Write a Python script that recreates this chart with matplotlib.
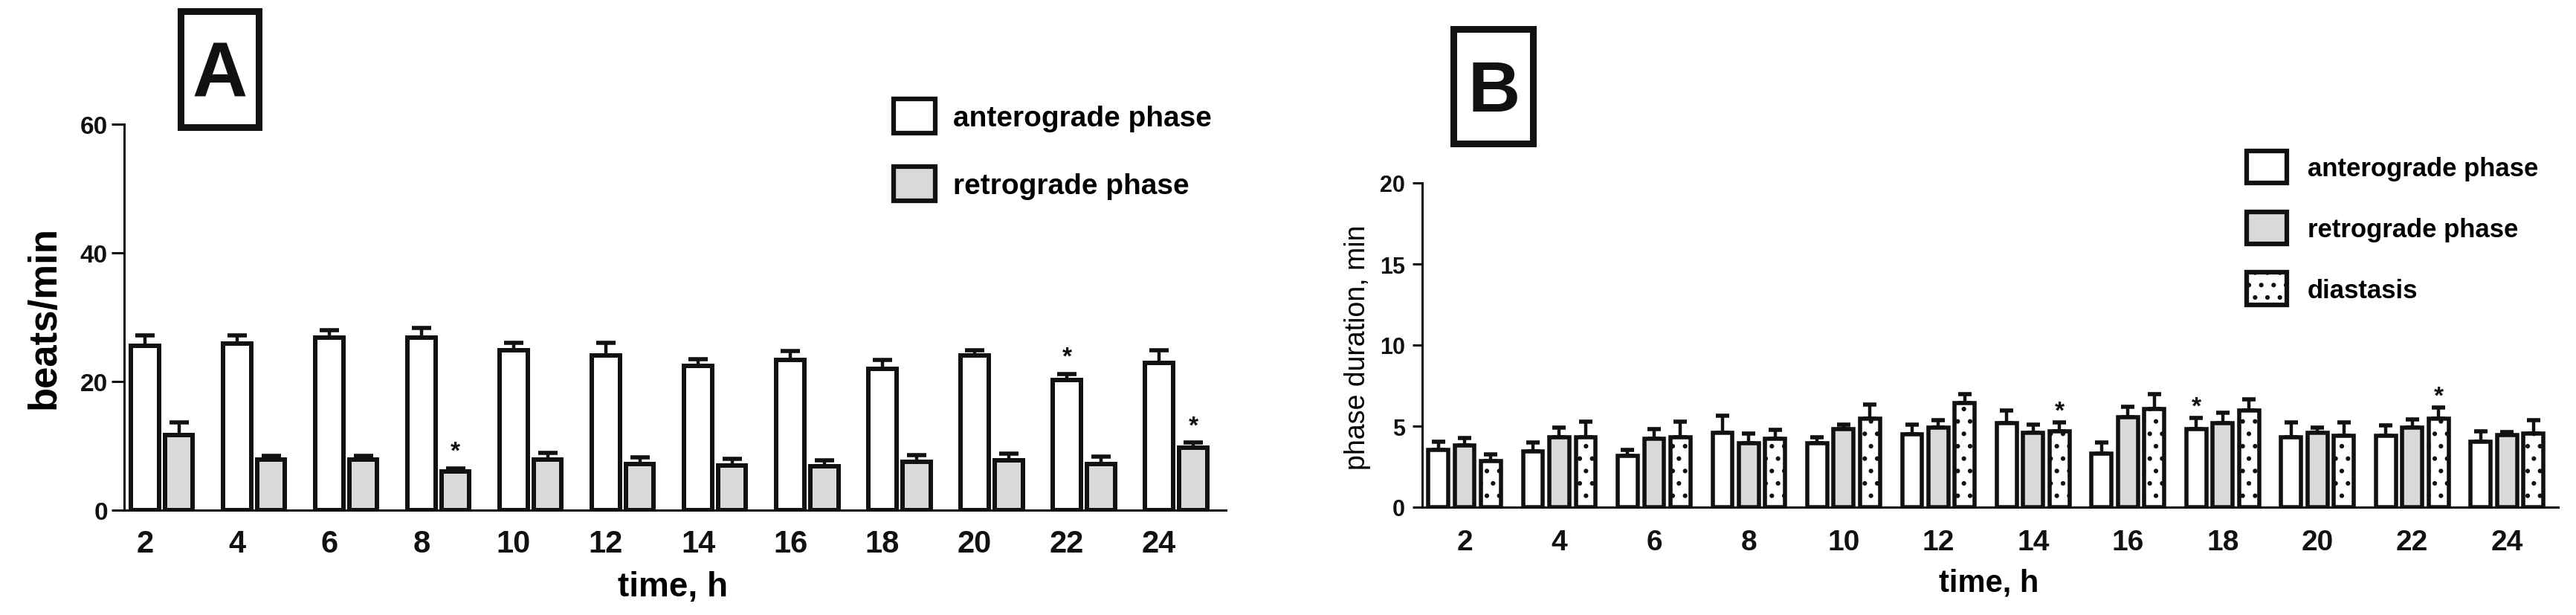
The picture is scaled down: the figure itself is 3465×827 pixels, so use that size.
import numpy as np
import matplotlib
matplotlib.use("Agg")
import matplotlib.pyplot as plt
from matplotlib.patches import Rectangle, Patch

plt.rcParams['font.family'] = ['Liberation Sans', 'DejaVu Sans']
plt.rcParams['hatch.linewidth'] = 2.0

# ---------------- data ----------------
hours = ['2', '4', '6', '8', '10', '12', '14', '16', '18', '20', '22', '24']

# Panel A: beats/min
a_antero = [25.6, 25.9, 26.8, 26.8, 24.9, 24.1, 22.4, 23.3, 22.0, 24.1, 20.2, 22.9]
a_antero_sem = [1.6, 1.3, 1.2, 1.5, 1.1, 1.9, 1.1, 1.4, 1.4, 0.8, 1.0, 1.9]
a_retro = [11.7, 7.9, 7.9, 6.0, 7.9, 7.2, 6.9, 6.8, 7.5, 7.8, 7.2, 9.7]
a_retro_sem = [1.9, 0.5, 0.5, 0.5, 1.0, 1.0, 1.1, 0.9, 1.1, 1.0, 1.1, 0.8]
a_antero_star = ['22']
a_retro_star = ['8', '24']

# Panel B: phase duration, min
b_antero = [3.55, 3.45, 3.15, 4.6, 3.95, 4.5, 5.2, 3.3, 4.8, 4.3, 4.4, 4.05]
b_antero_sem = [0.49, 0.54, 0.38, 1.04, 0.36, 0.58, 0.78, 0.69, 0.71, 0.95, 0.63, 0.65]
b_retro = [3.8, 4.3, 4.2, 3.95, 4.8, 4.9, 4.6, 5.55, 5.2, 4.6, 4.9, 4.45]
b_retro_sem = [0.46, 0.62, 0.61, 0.58, 0.30, 0.46, 0.50, 0.65, 0.61, 0.29, 0.52, 0.18]
b_dia = [2.85, 4.3, 4.3, 4.2, 5.45, 6.4, 4.7, 6.05, 5.95, 4.4, 5.45, 4.55]
b_dia_sem = [0.41, 0.97, 0.97, 0.56, 0.87, 0.58, 0.53, 0.92, 0.69, 0.84, 0.69, 0.81]
b_antero_star = ['18']
b_dia_star = ['14', '22']

labels_a = ['anterograde phase', 'retrograde phase']
labels_b = ['anterograde phase', 'retrograde phase', 'diastasis']

GRAY = '#d9d9d9'
W, H = 3465, 828
fig = plt.figure(figsize=(W / 100, H / 100), dpi=100)


def fx(px):
    return px / W


def fy(py):
    return 1 - py / H


x = np.arange(len(hours))


def bars(ax, xpos, vals, sem, width, color, hatch, lw, capsize, capthick, elw):
    ax.bar(xpos, vals, width=width, color=color, edgecolor='#111111',
           linewidth=lw, hatch=hatch, zorder=3)
    ax.errorbar(xpos, vals, yerr=[np.zeros(len(vals)), sem], fmt='none',
                ecolor='#111111', elinewidth=elw, capsize=capsize,
                capthick=capthick, zorder=2)


def stars(ax, xpos, vals, sem, which, off):
    for i, h in enumerate(hours):
        if h in which:
            ax.annotate('*', (xpos[i], vals[i] + sem[i]), xytext=(0, off),
                        textcoords='offset points', ha='center', va='center',
                        fontsize=24, fontweight='bold', color='#111111')


def style(ax, ylim, yticks, ylen, ypad, xpad, xfs, yfs):
    for s in ['top', 'right']:
        ax.spines[s].set_visible(False)
    for s in ['left', 'bottom']:
        ax.spines[s].set_linewidth(2.2)
        ax.spines[s].set_color('#111111')
    ax.set_ylim(*ylim)
    ax.set_yticks(yticks)
    ax.tick_params(axis='y', direction='out', length=ylen, width=2.2,
                   pad=ypad, labelsize=yfs, colors='#111111')
    ax.tick_params(axis='x', length=0, pad=xpad, labelsize=xfs,
                   colors='#111111')
    for t in ax.get_xticklabels() + ax.get_yticklabels():
        t.set_fontweight('bold')


# ---------------- Panel A ----------------
axA = fig.add_axes([fx(167), fy(687), fx(1649) - fx(167), fy(168) - fy(687)])
offA = 0.185
wA = 0.30
bars(axA, x - offA, a_antero, a_antero_sem, wA, 'white', None, 4.3, 9.5, 4.0, 3.2)
bars(axA, x + offA, a_retro, a_retro_sem, wA, GRAY, None, 4.3, 9.5, 4.0, 3.2)
stars(axA, x - offA, a_antero, a_antero_sem, a_antero_star, 16)
stars(axA, x + offA, a_retro, a_retro_sem, a_retro_star, 16)
axA.set_xlim(-0.41, 11.54)
axA.set_xticks(x - offA)
axA.set_xticklabels(hours)
style(axA, (0, 60), [0, 20, 40, 60], 12, 4, 18, 30, 24)
axA.set_ylabel('beats/min', fontsize=38, fontweight='bold', va='center')
axA.yaxis.set_label_coords((60 - 167) / 1482, 0.5)
axA.set_xlabel('time, h', fontsize=33, fontweight='bold', va='center')
axA.xaxis.set_label_coords(0.498, (687 - 790) / 519)

legA = axA.legend(handles=[Patch(facecolor='white', edgecolor='#111111', linewidth=4.5),
                           Patch(facecolor=GRAY, edgecolor='#111111', linewidth=4.5)],
                  labels=labels_a, loc='upper left',
                  bbox_to_anchor=(fx(1202), fy(134)), bbox_transform=fig.transFigure,
                  frameon=False, borderpad=0, borderaxespad=0,
                  handlelength=1.45, handleheight=1.45, handletextpad=0.6,
                  labelspacing=1.15, prop={'size': 28, 'weight': 'bold'})

# panel letter A
fig.add_artist(Rectangle((fx(243), fy(172)), fx(348) - fx(243), fy(16) - fy(172),
                         transform=fig.transFigure, fill=False, linewidth=6.5,
                         edgecolor='#111111'))
fig.text(fx(296), fy(129), 'A', fontsize=74, fontweight='bold', ha='center',
         va='baseline', color='#111111')

# ---------------- Panel B ----------------
axB = fig.add_axes([fx(1913), fy(683), fx(3441) - fx(1913), fy(247) - fy(683)])
offB = 0.278
wB = 0.21
bars(axB, x - offB, b_antero, b_antero_sem, wB, 'white', None, 4.0, 6.5, 4.0, 3.2)
bars(axB, x, b_retro, b_retro_sem, wB, GRAY, None, 4.0, 6.5, 4.0, 3.2)
bars(axB, x + offB, b_dia, b_dia_sem, wB, 'white', '.', 4.0, 6.5, 4.0, 3.2)
stars(axB, x - offB, b_antero, b_antero_sem, b_antero_star, 11)
stars(axB, x + offB, b_dia, b_dia_sem, b_dia_star, 11)
axB.set_xlim(-0.447, 11.54)
axB.set_xticks(x)
axB.set_xticklabels(hours)
style(axB, (0, 20), [0, 5, 10, 15, 20], 9.5, 7, 21, 28, 22)
axB.set_ylabel('phase duration, min', fontsize=27, va='center')
axB.yaxis.set_label_coords((1826 - 1913) / 1528, 0.495)
axB.set_xlabel('time, h', fontsize=30, fontweight='bold', va='center')
axB.xaxis.set_label_coords(0.4987, (683 - 785) / 436)

legB = axB.legend(handles=[Patch(facecolor='white', edgecolor='#111111', linewidth=4.5),
                           Patch(facecolor=GRAY, edgecolor='#111111', linewidth=4.5),
                           Patch(facecolor='white', edgecolor='#111111', linewidth=4.5,
                                 hatch='.')],
                  labels=labels_b, loc='upper left',
                  bbox_to_anchor=(fx(3022), fy(204)), bbox_transform=fig.transFigure,
                  frameon=False, borderpad=0, borderaxespad=0,
                  handlelength=1.55, handleheight=1.55, handletextpad=0.8,
                  labelspacing=1.1, prop={'size': 25, 'weight': 'bold'})

fig.add_artist(Rectangle((fx(1955), fy(194)), fx(2062) - fx(1955), fy(40) - fy(194),
                         transform=fig.transFigure, fill=False, linewidth=6.5,
                         edgecolor='#111111'))
fig.text(fx(2010), fy(150), 'B', fontsize=70, fontweight='bold', ha='center',
         va='baseline', color='#111111')

fig.savefig('out.png', dpi=100, facecolor='white')
